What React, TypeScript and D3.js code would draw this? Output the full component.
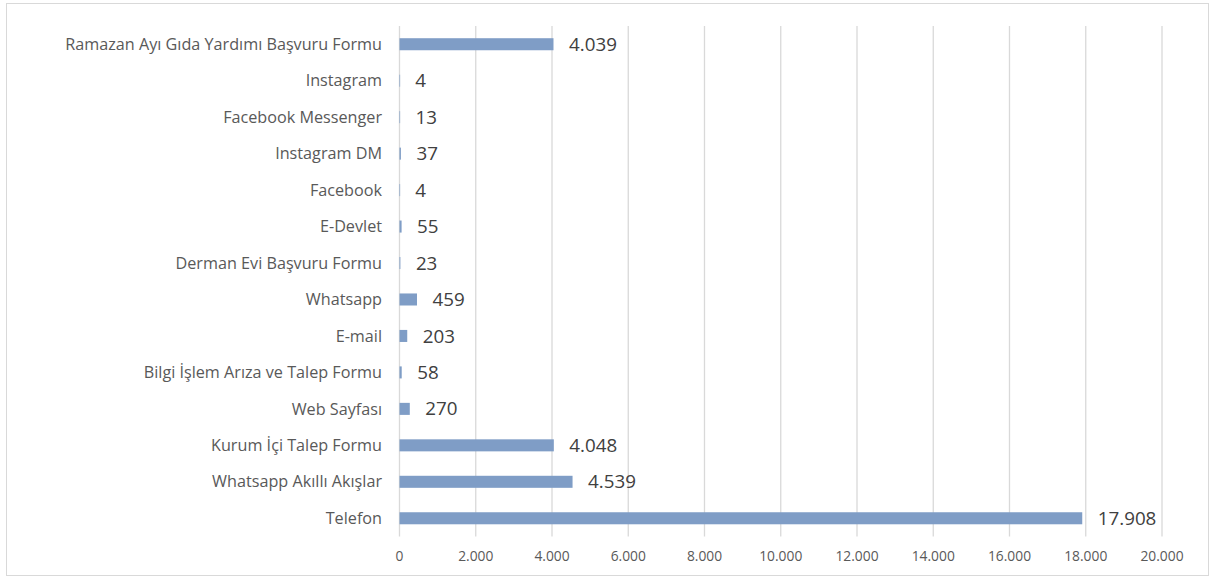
import React from "react";
import * as d3 from "d3";

const categories = [
  "Ramazan Ayı Gıda Yardımı Başvuru Formu",
  "Instagram",
  "Facebook Messenger",
  "Instagram DM",
  "Facebook",
  "E-Devlet",
  "Derman Evi Başvuru Formu",
  "Whatsapp",
  "E-mail",
  "Bilgi İşlem Arıza ve Talep Formu",
  "Web Sayfası",
  "Kurum İçi Talep Formu",
  "Whatsapp Akıllı Akışlar",
  "Telefon",
];
const values = [4039, 4, 13, 37, 4, 55, 23, 459, 203, 58, 270, 4048, 4539, 17908];
const xTicks = [0, 2000, 4000, 6000, 8000, 10000, 12000, 14000, 16000, 18000, 20000];

const locale = d3.formatLocale({ decimal: ",", thousands: ".", grouping: [3], currency: ["", "₺"] });
const fmt = locale.format(",d");

export default function App() {
  const W = 1213;
  const H = 579;
  const x = d3.scaleLinear().domain([0, 20000]).range([399.5, 1162]);
  const y = d3.scaleBand<string>().domain(categories).range([26, 536.5]).paddingInner(0.67).paddingOuter(0.335);
  const font = "'Open Sans', 'Noto Sans', sans-serif";
  return (
    <svg width={W} height={H} style={{ position: "absolute", left: 0, top: 0 }}>
      <rect x={0} y={0} width={W} height={H} fill="#fff" />
      <rect x={6.5} y={3.5} width={1202} height={572} fill="none" stroke="#d9d9d9" strokeWidth={1} />
      {xTicks.map((t) => (
        <line key={t} x1={x(t)} x2={x(t)} y1={26} y2={536.5} stroke="#d9d9d9" strokeWidth={1.3} />
      ))}
      {categories.map((c, i) => (
        <g key={c}>
          <rect x={x(0)} y={y(c)!} width={Math.max(x(values[i]) - x(0), 0.6)} height={y.bandwidth()} fill="#7f9dc6" />
          <text x={382} y={y(c)! + y.bandwidth() / 2} dy="0.35em" textAnchor="end" fontFamily={font} fontSize={16.2} fill="#595959">
            {c}
          </text>
          <text x={x(values[i]) + 15.5} y={y(c)! + y.bandwidth() / 2} dy="0.35em" fontFamily={font} fontSize={18.8} fill="#404040">
            {fmt(values[i])}
          </text>
        </g>
      ))}
      {xTicks.map((t) => (
        <text key={"l" + t} x={x(t)} y={556} dy="0.35em" textAnchor="middle" fontFamily={font} fontSize={13.8} fill="#595959">
          {fmt(t)}
        </text>
      ))}
    </svg>
  );
}
